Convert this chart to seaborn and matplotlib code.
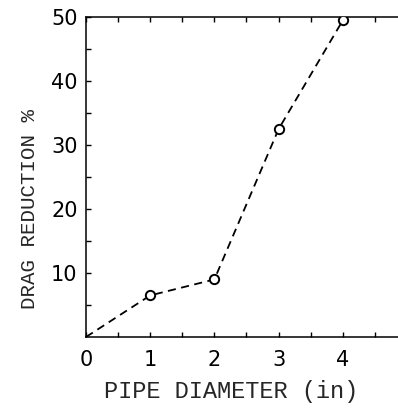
import numpy as np
import pandas as pd
import matplotlib
matplotlib.use("Agg")
import matplotlib.pyplot as plt
import seaborn as sns

# data
diameter = [0, 1, 2, 3, 4]
reduction = [0, 6.5, 9.0, 32.5, 49.5]
x_ticks = [0, 1, 2, 3, 4]
y_ticks = [10, 20, 30, 40, 50]

df = pd.DataFrame({"diameter": diameter, "reduction": reduction})

sns.set_style("ticks")
plt.rcParams["font.family"] = ["DejaVu Sans"]

fig = plt.figure(figsize=(3.98, 4.09), dpi=100)
ax = fig.add_axes([0.216, 0.176, 0.784, 0.782])

# dashed line through all points (incl. origin)
sns.lineplot(data=df, x="diameter", y="reduction", ax=ax, color="black",
             linewidth=1.3, linestyle=(0, (4.5, 3)), zorder=2)
# open circles at measured points
sns.scatterplot(data=df[df["diameter"] > 0], x="diameter", y="reduction", ax=ax,
                marker="o", s=45, facecolor="white", edgecolor="black",
                linewidth=1.4, zorder=3)

ax.set_xlim(0, 4.86)
ax.set_ylim(0, 50)
ax.set_xticks(x_ticks)
ax.set_xticks(np.arange(0.5, 4.86, 1.0), minor=True)
ax.set_yticks(y_ticks)
ax.set_yticks([5, 15, 25, 35, 45], minor=True)

ax.spines["right"].set_visible(False)
for s in ["left", "bottom", "top"]:
    ax.spines[s].set_linewidth(1.1)
    ax.spines[s].set_color("black")

ax.tick_params(which="both", direction="in", length=3.5, width=1.0,
               top=True, right=False, colors="black")
ax.tick_params(axis="x", which="major", labelsize=15, pad=9)
ax.tick_params(axis="y", which="major", labelsize=15, pad=6)

ax.set_xlabel("PIPE DIAMETER (in)", family="Liberation Mono", fontsize=17)
ax.set_ylabel("DRAG REDUCTION %", family="Liberation Mono", fontsize=15)
ax.xaxis.set_label_coords(0.465, -0.135)
ax.yaxis.set_label_coords(-0.15, 0.40)

fig.savefig("out.png", dpi=100)
